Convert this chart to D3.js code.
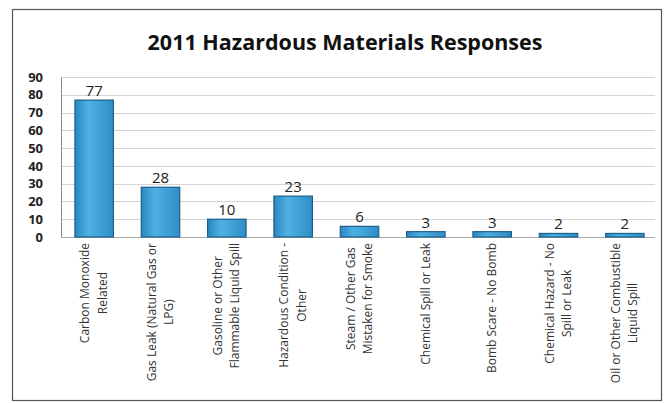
<!DOCTYPE html>
<html>
<head>
<meta charset="utf-8">
<script src="https://cdn.jsdelivr.net/npm/d3@7"></script>
<style>
  body { margin: 0; background: #fff; }
  svg { display: block; }
</style>
</head>
<body>
<script>
// chart data
var categories = [
    ["Carbon Monoxide", "Related"],
    ["Gas Leak (Natural Gas or", "LPG)"],
    ["Gasoline or Other", "Flammable Liquid Spill"],
    ["Hazardous Condition -", "Other"],
    ["Steam / Other Gas", "Mistaken for Smoke"],
    ["Chemical Spill or Leak"],
    ["Bomb Scare - No Bomb"],
    ["Chemical Hazard - No", "Spill or Leak"],
    ["Oil or Other Combustible", "Liquid Spill"]
];
var responses = [77, 28, 10, 23, 6, 3, 3, 2, 2];
var yTicks = [0, 10, 20, 30, 40, 50, 60, 70, 80, 90];
var title = "2011 Hazardous Materials Responses";

var w = 665, h = 403;
var plotLeft = 61, plotRight = 658, plotTop = 77, plotBottom = 237;
var font = "'Open Sans', 'DejaVu Sans', sans-serif";

var svg = d3.select("body").append("svg")
    .attr("width", w)
    .attr("height", h);

var defs = svg.append("defs");
var grad = defs.append("linearGradient")
    .attr("id", "barGrad")
    .attr("x1", "0").attr("x2", "1").attr("y1", "0").attr("y2", "0");
grad.append("stop").attr("offset", "0%").attr("stop-color", "#2b86c0");
grad.append("stop").attr("offset", "35%").attr("stop-color", "#4fb0e2");
grad.append("stop").attr("offset", "100%").attr("stop-color", "#2e8fc8");

// outer frame
svg.append("rect")
    .attr("x", 12.5).attr("y", 9.5)
    .attr("width", 649).attr("height", 391)
    .attr("fill", "none")
    .attr("stroke", "#555")
    .attr("stroke-width", 1.2);

svg.append("text")
    .attr("x", 345)
    .attr("y", 50)
    .attr("text-anchor", "middle")
    .attr("font-family", font)
    .attr("font-weight", "bold")
    .attr("font-size", "21.5px")
    .attr("fill", "#111")
    .text(title);

var xScale = d3.scaleBand()
    .domain(d3.range(responses.length))
    .range([plotLeft, plotRight])
    .paddingInner(0.42)
    .paddingOuter(0.21);

var yScale = d3.scaleLinear()
    .domain([0, 90])
    .range([plotBottom, plotTop]);

// gridlines
svg.append("g")
    .selectAll("line")
    .data(yTicks.slice(1))
    .enter()
    .append("line")
    .attr("x1", plotLeft).attr("x2", 655)
    .attr("y1", function(d) { return Math.round(yScale(d)) + 0.5; })
    .attr("y2", function(d) { return Math.round(yScale(d)) + 0.5; })
    .attr("stroke", "#d4d4d4")
    .attr("stroke-width", 1);

// y axis
var yAxis = d3.axisLeft(yScale).tickValues(yTicks).tickSize(0).tickPadding(18);
var yg = svg.append("g")
    .attr("transform", "translate(" + plotLeft + ",0)")
    .call(yAxis);
yg.select(".domain").attr("stroke", "#888");
yg.selectAll("text")
    .attr("font-family", font)
    .attr("font-size", "13px")
    .attr("font-weight", "bold")
    .attr("fill", "#222");

// baseline
svg.append("line")
    .attr("x1", plotLeft).attr("x2", 655)
    .attr("y1", plotBottom + 0.5).attr("y2", plotBottom + 0.5)
    .attr("stroke", "#aaa");

// bars
svg.selectAll("rect.bar")
    .data(responses)
    .enter()
    .append("rect")
    .attr("class", "bar")
    .attr("x", function(d, i) { return xScale(i); })
    .attr("y", function(d) { return yScale(d); })
    .attr("width", xScale.bandwidth())
    .attr("height", function(d) { return plotBottom - yScale(d); })
    .attr("fill", "url(#barGrad)")
    .attr("stroke", "#1d5f8a")
    .attr("stroke-width", 1.2);

// value labels
svg.selectAll("text.val")
    .data(responses)
    .enter()
    .append("text")
    .attr("class", "val")
    .attr("x", function(d, i) { return xScale(i) + xScale.bandwidth() / 2; })
    .attr("y", function(d) { return yScale(d) - 4; })
    .attr("text-anchor", "middle")
    .attr("font-family", font)
    .attr("font-size", "15px")
    .attr("fill", "#222")
    .text(function(d) { return d; });

// category labels, rotated, lines centred within a block hung from the axis
var labels = svg.selectAll("g.cat")
    .data(categories)
    .enter()
    .append("g")
    .attr("class", "cat")
    .attr("transform", function(d, i) {
        return "translate(" + (xScale(i) + xScale.bandwidth() / 2) + "," + (plotBottom + 6) + ") rotate(-90)";
    });

labels.append("text")
    .attr("text-anchor", "middle")
    .attr("font-family", font)
    .attr("font-size", "12px")
    .attr("fill", "#333")
    .each(function(d) {
        var t = d3.select(this);
        var n = d.length;
        var spans = d.map(function(line, k) {
            return t.append("tspan")
                .attr("dy", k === 0 ? (n === 1 ? "0.35em" : "-0.4em") : "1.45em")
                .text(line);
        });
        var maxLen = d3.max(spans, function(s) { return s.node().getComputedTextLength(); });
        spans.forEach(function(s) { s.attr("x", -maxLen / 2); });
    });
</script>
</body>
</html>
